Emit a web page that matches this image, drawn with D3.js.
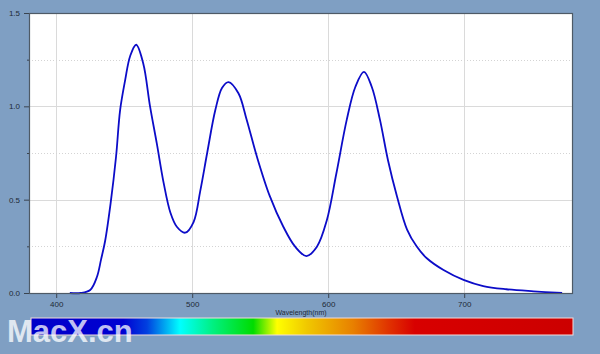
<!DOCTYPE html>
<html>
<head lang="en">
    <meta charset="UTF-8">
    <title>Spectrum</title>
    <script src="https://cdn.jsdelivr.net/npm/d3@7"></script>
    <style>
        body { margin: 0; background: #7f9fc3; }
        svg { display: block; }
    </style>
</head>
<body>
<svg id="mainSvg"></svg>
<script>
    // spectral power distribution
    var wavelengths = [380, 410, 418, 425, 430, 433, 436, 440, 444, 447, 450.7, 454.4, 458.8, 464, 469, 474, 479, 484, 488.7, 494.9,
        501, 506, 511, 517, 522, 526.7, 534, 540, 547.6, 557, 567, 575.7, 584, 591.7, 599, 606, 613.7, 620, 626.3,
        632, 638, 644, 650.5, 658, 665, 672.5, 684.8, 699.5, 714, 731, 751, 772];
    var intensity = [0, 0, 0, 0.016, 0.087, 0.18, 0.28, 0.48, 0.73, 0.98, 1.14, 1.27, 1.33, 1.23, 1.0, 0.80, 0.59, 0.43, 0.355, 0.323,
        0.38, 0.55, 0.75, 0.98, 1.10, 1.13, 1.07, 0.93, 0.73, 0.52, 0.355, 0.248, 0.198, 0.248, 0.39, 0.64, 0.93, 1.105, 1.185,
        1.105, 0.93, 0.71, 0.52, 0.34, 0.25, 0.186, 0.123, 0.07, 0.037, 0.02, 0.009, 0];
    var xTicks = [400, 500, 600, 700];
    var yTicks = [0.0, 0.5, 1.0, 1.5];
    var yMinor = [0.25, 0.75, 1.25];

    var w = 600, h = 354;
    var pLeft = 29, pRight = 573, pTop = 13, pBottom = 293;

    var svg = d3.select("#mainSvg").attr("width", w).attr("height", h);

    var x = d3.scaleLinear().domain([380, 780]).range([pLeft, pRight]);
    var y = d3.scaleLinear().domain([0, 1.5]).range([pBottom, pTop]);

    svg.append("rect")
            .attr("x", pLeft).attr("y", pTop)
            .attr("width", pRight - pLeft).attr("height", pBottom - pTop)
            .attr("fill", "white");

    // grid
    svg.selectAll("line.vgrid").data(xTicks).enter().append("line")
            .attr("x1", function (d) { return Math.round(x(d)) + 0.5; })
            .attr("x2", function (d) { return Math.round(x(d)) + 0.5; })
            .attr("y1", pTop).attr("y2", pBottom)
            .attr("stroke", "#dadada").attr("stroke-width", 1);
    svg.selectAll("line.hgrid").data(yTicks.slice(1, 3)).enter().append("line")
            .attr("x1", pLeft).attr("x2", pRight)
            .attr("y1", function (d) { return Math.round(y(d)) + 0.5; })
            .attr("y2", function (d) { return Math.round(y(d)) + 0.5; })
            .attr("stroke", "#dadada").attr("stroke-width", 1);
    svg.selectAll("line.hminor").data(yMinor).enter().append("line")
            .attr("x1", pLeft).attr("x2", pRight)
            .attr("y1", function (d) { return Math.round(y(d)) + 0.5; })
            .attr("y2", function (d) { return Math.round(y(d)) + 0.5; })
            .attr("stroke", "#d4d4d4").attr("stroke-width", 1)
            .attr("stroke-dasharray", "1,2");

    // curve
    var pts = wavelengths.map(function (d, i) { return [d, intensity[i]]; });
    var line = d3.line()
            .x(function (d) { return x(d[0]); })
            .y(function (d) { return y(Math.max(0, d[1])); })
            .curve(d3.curveCatmullRom.alpha(0.5));
    svg.append("path")
            .datum(pts.filter(function (d) { return d[0] >= 410; }))
            .attr("d", line)
            .attr("fill", "none")
            .attr("stroke", "#0c0cc8")
            .attr("stroke-width", 1.8);

    // frame
    svg.append("rect")
            .attr("x", pLeft + 0.5).attr("y", pTop + 0.5)
            .attr("width", pRight - pLeft - 1).attr("height", pBottom - pTop)
            .attr("fill", "none").attr("stroke", "#4e5a66").attr("stroke-width", 1.2);

    // axes
    var yAxis = d3.axisLeft(y).tickValues(yTicks).tickSize(5).tickPadding(4)
            .tickFormat(d3.format(".1f"));
    var gy = svg.append("g").attr("transform", "translate(" + pLeft + ",0)").call(yAxis);
    gy.select(".domain").remove();
    gy.selectAll("line").attr("stroke", "#3a4450");
    gy.selectAll("text").attr("font-family", "Liberation Sans, Arial, sans-serif")
            .attr("font-size", 8).attr("fill", "#1e2a36");
    svg.append("g").attr("transform", "translate(" + pLeft + ",0)")
            .call(d3.axisLeft(y).tickValues(yMinor).tickSize(2).tickFormat(""))
            .call(function (g) { g.select(".domain").remove(); g.selectAll("line").attr("stroke", "#3a4450"); });

    var xAxis = d3.axisBottom(x).tickValues(xTicks).tickSize(4).tickPadding(3)
            .tickFormat(d3.format("d"));
    var gx = svg.append("g").attr("transform", "translate(0," + (pBottom + 1) + ")").call(xAxis);
    gx.select(".domain").remove();
    gx.selectAll("line").attr("stroke", "#3a4450");
    gx.selectAll("text").attr("font-family", "Liberation Sans, Arial, sans-serif")
            .attr("font-size", 8).attr("fill", "#1e2a36");

    svg.append("text")
            .attr("x", 301).attr("y", 315)
            .attr("text-anchor", "middle")
            .attr("font-family", "Liberation Sans, Arial, sans-serif")
            .attr("font-size", 7).attr("fill", "#1e2a36")
            .text("Wavelength(nm)");

    // spectrum strip
    var stops = [
        [0, "#0000c8"], [0.17, "#0000d2"], [0.214, "#0040e0"], [0.275, "#00ffff"],
        [0.336, "#00f080"], [0.41, "#00dc00"], [0.454, "#ffff00"], [0.509, "#f0c800"],
        [0.594, "#e88000"], [0.662, "#e03000"], [0.708, "#d80000"], [1, "#cc0000"]
    ];
    var grad = svg.append("defs").append("linearGradient").attr("id", "spec")
            .attr("x1", "0%").attr("x2", "100%");
    grad.selectAll("stop").data(stops).enter().append("stop")
            .attr("offset", function (d) { return d[0]; })
            .attr("stop-color", function (d) { return d[1]; });
    svg.append("rect")
            .attr("x", 31).attr("y", 318).attr("width", 542).attr("height", 17)
            .attr("fill", "url(#spec)")
            .attr("stroke", "#f0dcdc").attr("stroke-width", 1);

    svg.append("text")
            .attr("x", 7).attr("y", 342)
            .attr("font-family", "Liberation Sans, Arial, sans-serif")
            .attr("font-weight", "bold").attr("font-size", 31)
            .attr("fill", "white").attr("fill-opacity", 0.75)
            .text("MacX.cn");
</script>
</body>
</html>
